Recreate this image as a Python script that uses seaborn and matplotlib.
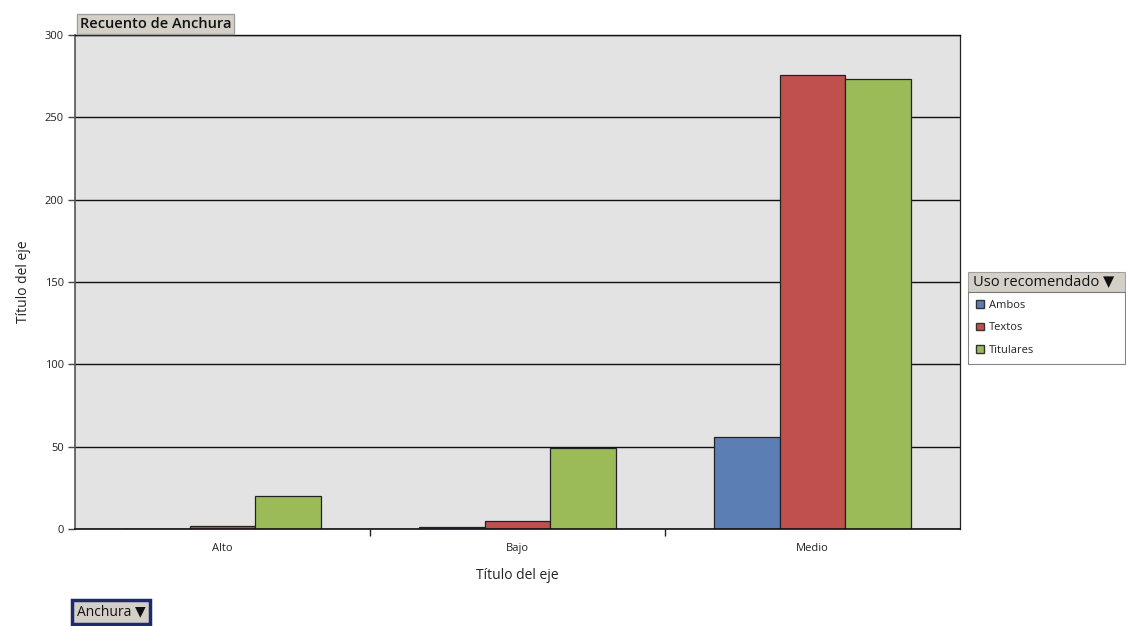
import matplotlib
matplotlib.use("Agg")
import matplotlib.pyplot as plt
import seaborn as sns
import pandas as pd
from matplotlib.patches import Patch, Rectangle

categories = ["Alto", "Bajo", "Medio"]
series = ["Ambos", "Textos", "Titulares"]
ambos = [0, 1, 56]
textos = [2, 5, 276]
titulares = [20, 49, 273]
colors = ["#5B7FB5", "#C0504D", "#9BBB59"]

rows = []
for name, vals in zip(series, [ambos, textos, titulares]):
    for c, v in zip(categories, vals):
        rows.append({"Anchura": c, "Uso recomendado": name, "Recuento": v})
df = pd.DataFrame(rows)

sns.set_theme(style="white")
plt.rcParams["font.family"] = ["Open Sans", "DejaVu Sans"]

W, H = 1126, 626
fig = plt.figure(figsize=(11.26, 6.26), dpi=100)
ax = fig.add_axes([75/W, 1-529/H, (960-75)/W, (529-35)/H])
ax.set_facecolor("#E3E3E3")

sns.barplot(data=df, x="Anchura", y="Recuento", hue="Uso recomendado",
            order=categories, hue_order=series, palette=colors,
            width=0.667, gap=0, edgecolor="#222222", linewidth=0.9,
            saturation=1, ax=ax, legend=False, errorbar=None)

ax.set_xlim(-0.5, 2.5)
ax.set_ylim(0, 300)
ax.set_yticks(range(0, 301, 50))
ax.yaxis.grid(True, color="#111111", linewidth=1)
ax.set_axisbelow(True)
ax.tick_params(axis="y", which="major", left=True, length=5, width=1, color="#444444",
               labelsize=8, labelcolor="#222222", pad=3)
ax.tick_params(axis="x", which="major", bottom=False, labelsize=8, labelcolor="#222222", pad=4)
ax.set_xticks([0.5, 1.5], minor=True)
ax.tick_params(axis="x", which="minor", bottom=True, length=5, width=1, color="#222222")

ax.spines["left"].set_color("#555555")
ax.spines["left"].set_linewidth(1.2)
ax.spines["bottom"].set_color("#111111")
ax.spines["bottom"].set_linewidth(1.2)
ax.spines["right"].set_color("#222222")
ax.spines["right"].set_linewidth(0.9)
ax.spines["top"].set_color("#111111")
ax.spines["top"].set_linewidth(1)

ax.set_xlabel("Título del eje", fontsize=10, color="#222222", labelpad=10)
ax.set_ylabel("Título del eje", fontsize=10, color="#222222", labelpad=10)

# Title button
fig.text(80/W, 1-24/H, "Recuento de Anchura", fontsize=10.5, fontweight="semibold",
         color="#111111", va="center", ha="left",
         bbox=dict(boxstyle="square,pad=0.2", facecolor="#D4D0C8", edgecolor="#A0A0A0"))

# Legend
handles = [Patch(facecolor=c, edgecolor="#333333", label=s) for c, s in zip(colors, series)]
leg = fig.legend(handles=handles, loc="upper left",
                 bbox_to_anchor=(968/W, 1-368/H, (W-1-968)/W, 76/H), mode="expand",
                 frameon=True, fontsize=8, handlelength=0.7, handleheight=0.7,
                 handletextpad=0.5, labelspacing=1.05, borderaxespad=0,
                 borderpad=0.7, fancybox=False)
leg.get_frame().set_edgecolor("#666666")
leg.get_frame().set_linewidth(0.8)
for t in leg.get_texts():
    t.set_color("#222222")
fig.add_artist(Rectangle((968/W, 1-292/H), (W-1-968)/W, 20/H, transform=fig.transFigure,
                         facecolor="#D4D0C8", edgecolor="#A0A0A0", linewidth=0.8))
fig.text(973/W, 1-282/H, "Uso recomendado ▼", fontsize=10.5, color="#111111",
         va="center", ha="left")

# Field button
fig.text(77/W, 1-612/H, "Anchura ▼", fontsize=10, color="#111111", va="center", ha="left",
         bbox=dict(boxstyle="square,pad=0.35", facecolor="#D4D0C8", edgecolor="#1F2A6B", linewidth=2.5))

fig.savefig("out.png", dpi=100)
